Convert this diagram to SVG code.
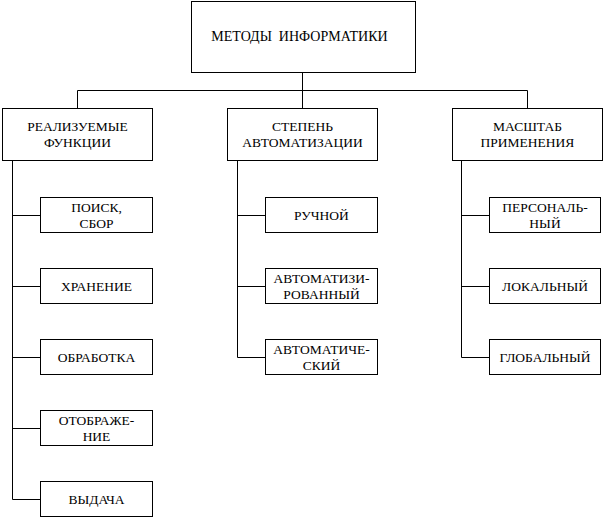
<svg xmlns="http://www.w3.org/2000/svg" width="606" height="520" viewBox="0 0 606 520">
<style>
rect{fill:#fff;stroke:#000;stroke-width:1}
text{font-family:"Liberation Serif","Times New Roman","DejaVu Serif",serif;font-size:13.5px;fill:#000;text-anchor:middle;white-space:pre}
.t{font-size:14px}
#connectors path{fill:none;stroke:#000;stroke-width:1}
</style>
<rect x="0" y="0" width="606" height="520" style="stroke:none"/>
<g id="connectors">
<path d="M302.5 72.5V90.5M77.5 108.5V90.5H527.5V108.5M302.5 90.5V108.5"/>
<path d="M12.5 160.5V499.5M12.5 215.5H40.5M12.5 286.5H40.5M12.5 357.5H40.5M12.5 428.5H40.5M12.5 499.5H40.5"/>
<path d="M237.5 160.5V357.5M237.5 215.5H265.5M237.5 286.5H265.5M237.5 357.5H265.5"/>
<path d="M461.5 160.5V357.5M461.5 215.5H489.5M461.5 286.5H489.5M461.5 357.5H489.5"/>
</g>
<g id="root"><rect x="191.5" y="1.5" width="224" height="71"/><text class="t" x="299.5" y="41" xml:space="preserve">МЕТОДЫ  ИНФОРМАТИКИ</text></g>
<g id="functions"><rect x="2.5" y="108.5" width="150" height="52"/><text x="77.5" y="131">РЕАЛИЗУЕМЫЕ</text><text x="77.5" y="147">ФУНКЦИИ</text></g>
<g id="automation"><rect x="227.5" y="108.5" width="150" height="52"/><text x="302.5" y="131">СТЕПЕНЬ</text><text x="302.5" y="147">АВТОМАТИЗАЦИИ</text></g>
<g id="scale"><rect x="452.5" y="108.5" width="150" height="52"/><text x="527.5" y="131">МАСШТАБ</text><text x="527.5" y="147">ПРИМЕНЕНИЯ</text></g>
<g id="search"><rect x="40.5" y="197.5" width="112" height="35"/><text x="96.5" y="212">ПОИСК,</text><text x="96.5" y="228">СБОР</text></g>
<g id="storage"><rect x="40.5" y="268.5" width="112" height="35"/><text x="96.5" y="291">ХРАНЕНИЕ</text></g>
<g id="processing"><rect x="40.5" y="339.5" width="112" height="35"/><text x="96.5" y="362">ОБРАБОТКА</text></g>
<g id="display"><rect x="40.5" y="410.5" width="112" height="35"/><text x="96.5" y="425">ОТОБРАЖЕ-</text><text x="96.5" y="441">НИЕ</text></g>
<g id="output"><rect x="40.5" y="481.5" width="112" height="35"/><text x="96.5" y="504">ВЫДАЧА</text></g>
<g id="manual"><rect x="265.5" y="197.5" width="112" height="35"/><text x="321.5" y="220">РУЧНОЙ</text></g>
<g id="automated"><rect x="265.5" y="268.5" width="112" height="35"/><text x="321.5" y="283">АВТОМАТИЗИ-</text><text x="321.5" y="299">РОВАННЫЙ</text></g>
<g id="automatic"><rect x="265.5" y="339.5" width="112" height="35"/><text x="321.5" y="354">АВТОМАТИЧЕ-</text><text x="321.5" y="370">СКИЙ</text></g>
<g id="personal"><rect x="489.5" y="197.5" width="111" height="35"/><text x="545" y="212">ПЕРСОНАЛЬ-</text><text x="545" y="228">НЫЙ</text></g>
<g id="local"><rect x="489.5" y="268.5" width="111" height="35"/><text x="545" y="291">ЛОКАЛЬНЫЙ</text></g>
<g id="global"><rect x="489.5" y="339.5" width="111" height="35"/><text x="545" y="362">ГЛОБАЛЬНЫЙ</text></g>
</svg>
